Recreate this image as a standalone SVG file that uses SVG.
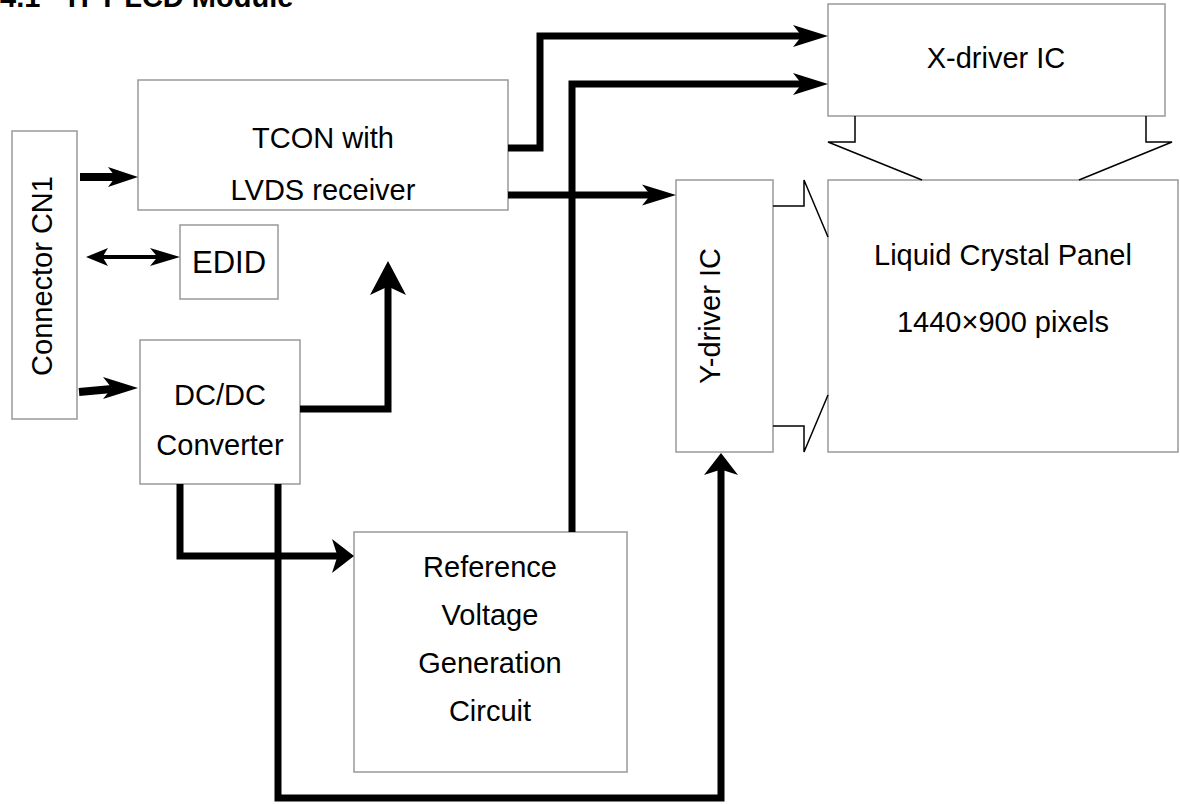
<svg xmlns="http://www.w3.org/2000/svg" xmlns:xlink="http://www.w3.org/1999/xlink" width="1180" height="804" viewBox="0 0 1180 804">
<style>
.box{fill:#fff;stroke:#999;stroke-width:1.5}
.t{font-family:"Liberation Sans",Arial,sans-serif;font-size:29px;fill:#000;text-anchor:middle}
.title{font-family:"Liberation Sans",Arial,sans-serif;font-size:29px;font-weight:bold;fill:#000}
.w{fill:none;stroke:#000;stroke-width:7;stroke-linejoin:miter;stroke-linecap:butt}
.thin{fill:none;stroke:#000;stroke-width:1.5}
.ah{fill:#000}
</style>
<defs>
<path id="ah" d="M0,0 L-1,-1 L-0.75,0 L-1,1 Z"/>
</defs>
<rect width="1180" height="804" fill="#fff"/>
<text class="title" y="7"><tspan x="0">4.1</tspan><tspan x="63">TFT LCD Module</tspan></text>

<g id="cn1"><rect class="box" x="12" y="131" width="65" height="288"/><text class="t" transform="translate(52,276) rotate(-90)">Connector CN1</text></g>
<g id="tcon"><rect class="box" x="138" y="80" width="370" height="130"/><text class="t" x="323" y="148">TCON with</text><text class="t" x="323" y="200">LVDS receiver</text></g>
<g id="edid"><rect class="box" x="180" y="225" width="98" height="74"/><text class="t" x="229" y="273" style="font-size:31px">EDID</text></g>
<g id="dcdc"><rect class="box" x="140" y="340" width="160" height="144"/><text class="t" x="220" y="405">DC/DC</text><text class="t" x="220" y="455">Converter</text></g>
<g id="ref"><rect class="box" x="354" y="532" width="273" height="240"/><text class="t" x="490" y="577">Reference</text><text class="t" x="490" y="625">Voltage</text><text class="t" x="490" y="673">Generation</text><text class="t" x="490" y="721">Circuit</text></g>
<g id="xdrv"><rect class="box" x="828" y="4" width="337" height="112"/><text class="t" x="996" y="68">X-driver IC</text></g>
<g id="ydrv"><rect class="box" x="676" y="180" width="97" height="272"/><text class="t" transform="translate(720,316) rotate(-90)">Y-driver IC</text></g>
<g id="panel"><rect class="box" x="828" y="180" width="350" height="272"/><text class="t" x="1003" y="265">Liquid Crystal Panel</text><text class="t" x="1003" y="332">1440×900 pixels</text></g>

<g id="connectors">
<path class="thin" d="M855,116 V142 H828 L922,180"/>
<path class="thin" d="M1146,116 V142 H1172 L1079,180"/>
<path class="thin" d="M773,206 H804 V180 L828,237"/>
<path class="thin" d="M773,426 H804 V452 L828,395"/>

<path class="w" d="M80,177 H116" style="stroke-width:8"/>
<use class="ah" xlink:href="#ah" transform="translate(138,177) scale(30,10)"/>

<path class="w" d="M100,257 H160" style="stroke-width:4"/>
<use class="ah" xlink:href="#ah" transform="translate(86,257) rotate(180) scale(22,9)"/>
<use class="ah" xlink:href="#ah" transform="translate(180,257) scale(30,9)"/>

<path class="w" d="M79,392 L112,389" style="stroke-width:8"/>
<use class="ah" xlink:href="#ah" transform="translate(138,388) scale(35,11)"/>

<path class="w" d="M508,148 H540 V36 H805"/>
<use class="ah" xlink:href="#ah" transform="translate(828,36) scale(35,11)"/>

<path class="w" d="M572,532 V84 H805"/>
<use class="ah" xlink:href="#ah" transform="translate(828,84) scale(35,11)"/>

<path class="w" d="M508,195 H654"/>
<use class="ah" xlink:href="#ah" transform="translate(676,195) scale(34,10.5)"/>

<path class="w" d="M300,409 H388 V282"/>
<use class="ah" xlink:href="#ah" transform="translate(388,261) rotate(-90) scale(34,18)"/>

<path class="w" d="M180,484 V556 H340"/>
<use class="ah" xlink:href="#ah" transform="translate(354,556) scale(22,17)"/>

<path class="w" d="M278,484 V798 H721 V467"/>
<use class="ah" xlink:href="#ah" transform="translate(721,453) rotate(-90) scale(22,17)"/>
</g>
</svg>
